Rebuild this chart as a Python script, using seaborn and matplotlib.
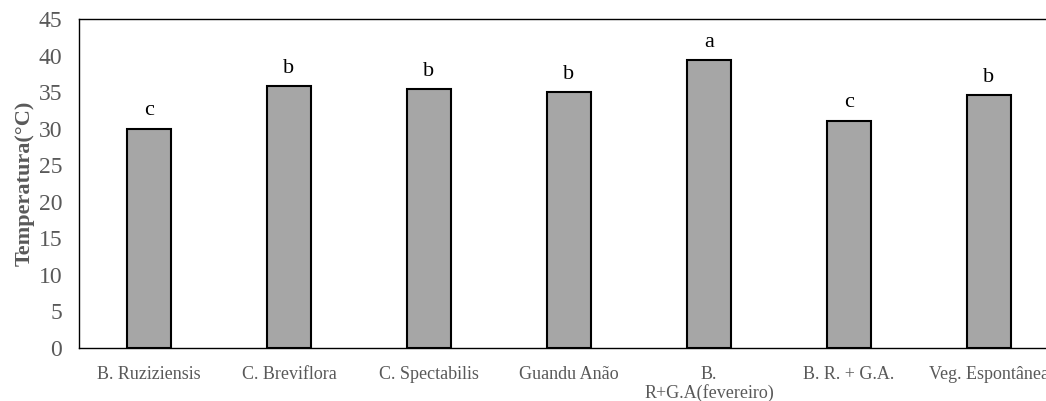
import matplotlib
matplotlib.use("Agg")
import matplotlib.pyplot as plt
import seaborn as sns
import pandas as pd

categories = ["B. Ruziziensis", "C. Breviflora", "C. Spectabilis", "Guandu Anão",
              "B.\nR+G.A(fevereiro)", "B. R. + G.A.", "Veg. Espontânea"]
values = [30.0, 35.8, 35.4, 35.0, 39.4, 31.1, 34.6]
letters = ["c", "b", "b", "b", "a", "c", "b"]
yticks = [0, 5, 10, 15, 20, 25, 30, 35, 40, 45]

sns.set_theme(style="white")
plt.rcParams['font.family'] = ['Liberation Serif', 'DejaVu Serif']

df = pd.DataFrame({"cat": categories, "val": values})

fig = plt.figure(figsize=(10.46, 4.01), dpi=100)
ax = fig.add_axes([79/1046, 1 - 348/401, (1059 - 79)/1046, (348 - 19)/401])

sns.barplot(data=df, x="cat", y="val", color="#a6a6a6", saturation=1,
            edgecolor="black", linewidth=1.5, width=0.31, ax=ax)

for i, (v, l) in enumerate(zip(values, letters)):
    ax.annotate(l, (i, v), xytext=(0, 6), textcoords="offset points",
                ha="center", va="bottom", fontsize=16, color="black")

ax.set_xlim(-0.5, 6.5)
ax.set_ylim(0, 45)
ax.set_yticks(yticks)
ax.set_yticklabels([str(t) for t in yticks], fontsize=17, color="#595959")
ax.set_xticks(range(len(categories)))
ax.set_xticklabels(categories, fontsize=13, color="#595959", linespacing=1.1)
ax.tick_params(axis="y", length=0, pad=12)
ax.tick_params(axis="x", length=0, pad=13)
ax.set_xlabel("")
ax.set_ylabel("Temperatura(°C)", fontsize=16, fontweight="bold", color="#595959", labelpad=3)

for s in ["left", "bottom", "top", "right"]:
    ax.spines[s].set_visible(True)
    ax.spines[s].set_color("black")
    ax.spines[s].set_linewidth(1.0)

fig.savefig("out.png", dpi=100)
